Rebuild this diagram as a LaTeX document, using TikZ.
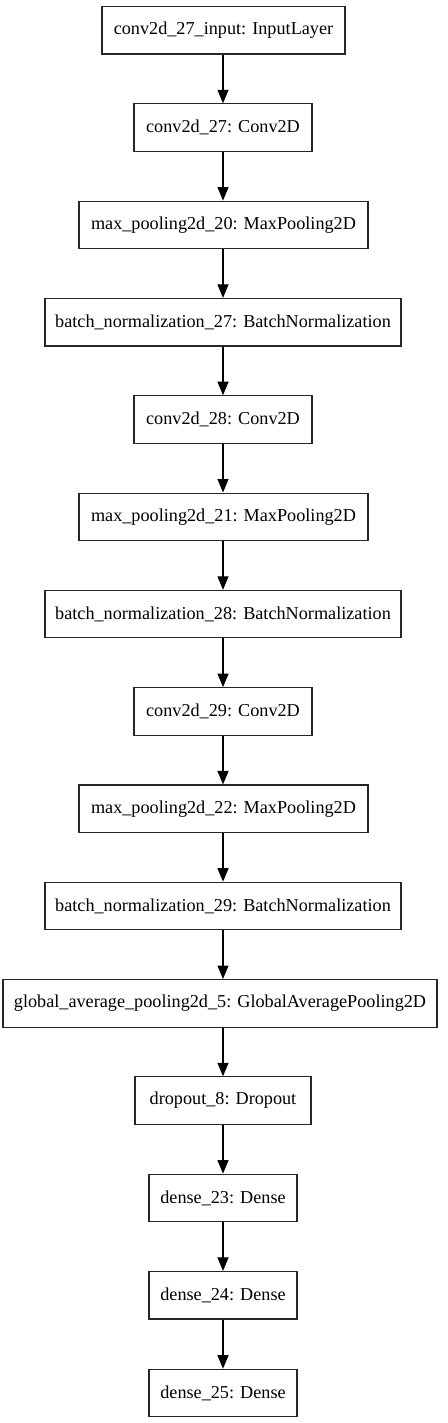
\documentclass[tikz,border=0pt]{standalone}
\usepackage{fontspec}
\setmainfont{Liberation Serif}
\usetikzlibrary{arrows.meta}
\begin{document}
\begin{tikzpicture}[x=1pt,y=-1pt,
  layer/.style={draw=black!85, line width=1.1pt, inner sep=0pt, minimum height=47.5pt,
    font=\fontsize{18.2}{20}\selectfont, anchor=north},
  conn/.style={draw=black, line width=1.1pt, -{Triangle[length=13.5pt,width=11pt]}}]
\useasboundingbox (0,0) rectangle (447,1423);
\node[layer, minimum width=243pt] (n1) at (223.5,6) {conv2d\_27\_input: InputLayer};
\node[layer, minimum width=178pt] (n2) at (223,103.3) {conv2d\_27: Conv2D};
\node[layer, minimum width=289pt] (n3) at (223.5,200.6) {max\_pooling2d\_20: MaxPooling2D};
\node[layer, minimum width=356pt] (n4) at (223,297.9) {batch\_normalization\_27: BatchNormalization};
\node[layer, minimum width=178pt] (n5) at (223,395.2) {conv2d\_28: Conv2D};
\node[layer, minimum width=289pt] (n6) at (223.5,492.5) {max\_pooling2d\_21: MaxPooling2D};
\node[layer, minimum width=356pt] (n7) at (223,589.8) {batch\_normalization\_28: BatchNormalization};
\node[layer, minimum width=178pt] (n8) at (223,687.1) {conv2d\_29: Conv2D};
\node[layer, minimum width=289pt] (n9) at (223.5,784.4) {max\_pooling2d\_22: MaxPooling2D};
\node[layer, minimum width=356pt] (n10) at (223,881.7) {batch\_normalization\_29: BatchNormalization};
\node[layer, minimum width=434pt] (n11) at (220,979) {global\_average\_pooling2d\_5: GlobalAveragePooling2D};
\node[layer, minimum width=176pt] (n12) at (223,1076.3) {dropout\_8: Dropout};
\node[layer, minimum width=148pt] (n13) at (223,1173.6) {dense\_23: Dense};
\node[layer, minimum width=148pt] (n14) at (223,1270.9) {dense\_24: Dense};
\node[layer, minimum width=148pt] (n15) at (223,1368.7) {dense\_25: Dense};
\foreach \a/\b in {n1/n2,n2/n3,n3/n4,n4/n5,n5/n6,n6/n7,n7/n8,n8/n9,n9/n10,n10/n11,n11/n12,n12/n13,n13/n14,n14/n15}
  \draw[conn] (\a.south -| n15.north) -- (\b.north -| n15.north);
\end{tikzpicture}
\end{document}
